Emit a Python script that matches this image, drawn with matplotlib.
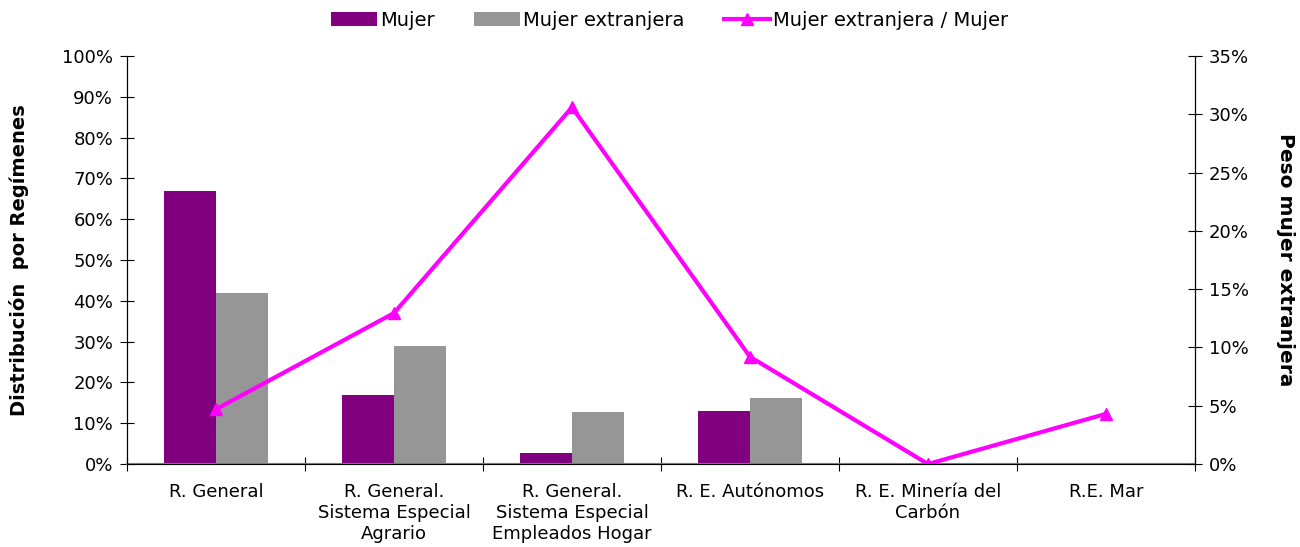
import numpy as np
import matplotlib
matplotlib.use('Agg')
import matplotlib.pyplot as plt
from matplotlib.ticker import PercentFormatter

categories = ['R. General', 'R. General.\nSistema Especial\nAgrario',
              'R. General.\nSistema Especial\nEmpleados Hogar', 'R. E. Autónomos',
              'R. E. Minería del\nCarbón', 'R.E. Mar']
mujer = [66.8, 16.8, 2.8, 13.0, 0.0, 0.25]
mujer_ext = [42.0, 29.0, 12.7, 16.3, 0.0, 0.1]
ratio = [4.7, 12.95, 30.6, 9.2, 0.0, 4.3]

plt.rcParams['font.family'] = ['DejaVu Sans']
plt.rcParams['font.size'] = 13

fig = plt.figure(figsize=(13, 5.47), dpi=100)
ax = fig.add_axes([0.0977, 0.1517, 0.8215, 0.7459])
ax2 = ax.twinx()

x = np.arange(len(categories))
w = 0.29
b1 = ax.bar(x - w / 2, mujer, w, color='#800080', label='Mujer')
b2 = ax.bar(x + w / 2, mujer_ext, w, color='#969696', label='Mujer extranjera')
ln, = ax2.plot(x, ratio, color='#FF00FF', linewidth=3, marker='^', markersize=9,
               label='Mujer extranjera / Mujer')

ax.set_xlim(-0.5, len(categories) - 0.5)
ax.set_ylim(0, 100)
ax2.set_ylim(0, 35)
ax.set_yticks(np.arange(0, 101, 10))
ax2.set_yticks(np.arange(0, 36, 5))
ax.yaxis.set_major_formatter(PercentFormatter(decimals=0))
ax2.yaxis.set_major_formatter(PercentFormatter(decimals=0))

ax.set_xticks(np.arange(-0.5, len(categories) + 0.5, 1))
ax.set_xticklabels([])
ax.set_xticks(x, minor=True)
ax.set_xticklabels(categories, minor=True)
ax.tick_params(axis='x', which='minor', length=0, pad=14)
ax.tick_params(axis='x', which='major', direction='inout', length=10, color='black')
ax.tick_params(axis='y', direction='inout', length=10, pad=5)
ax2.tick_params(axis='y', direction='inout', length=10, pad=5)

for a in (ax, ax2):
    a.spines['top'].set_visible(False)
ax.spines['bottom'].set_color('#808080')
ax.spines['bottom'].set_linewidth(1.5)

ax.set_ylabel('Distribución  por Regímenes', fontsize=14, fontweight='bold')
ax.yaxis.set_label_coords(-0.092, 0.5)
ax2.set_ylabel('Peso mujer extranjera', fontsize=14.5, fontweight='bold', rotation=270,
               va='center')
ax2.yaxis.set_label_coords(1.085, 0.5)

fig.legend(handles=[b1, b2, ln], loc='upper center', bbox_to_anchor=(0.515, 1.012),
           ncol=3, frameon=False, handlelength=2.4, columnspacing=2.0,
           handletextpad=0.15, fontsize=14)

fig.savefig('out.png', dpi=100)
